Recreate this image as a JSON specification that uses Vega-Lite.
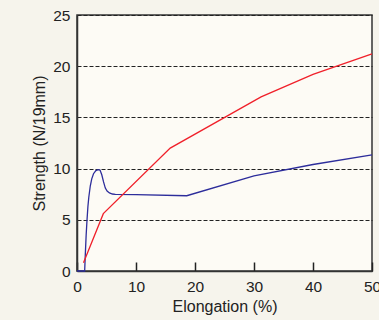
{
  "$schema": "https://vega.github.io/schema/vega-lite/v6.json",
  "width": 295,
  "height": 256,
  "autosize": {"type": "none"},
  "padding": {"left": 77, "top": 15, "right": 7, "bottom": 49},
  "background": "#f6f4ec",
  "view": {"fill": "#fdfbf5", "stroke": "#333333", "strokeWidth": 1.5},
  "config": {
    "font": "Liberation Sans",
    "axis": {
      "labelFont": "Liberation Sans",
      "titleFont": "Liberation Sans",
      "labelFontSize": 15.5,
      "titleFontSize": 16,
      "titleFontWeight": "normal",
      "labelColor": "#222222",
      "titleColor": "#222222",
      "domainColor": "#333333",
      "domainWidth": 1.5,
      "labelFlush": false,
      "labelOverlap": false,
      "labelBound": false
    }
  },
  "data": {
    "values": [
      {"series": "blue", "x": 0, "y": 0},
      {"series": "blue", "x": 1.3, "y": 0},
      {"series": "blue", "x": 1.4, "y": 1.5},
      {"series": "blue", "x": 1.55, "y": 3.5},
      {"series": "blue", "x": 1.7, "y": 5},
      {"series": "blue", "x": 1.85, "y": 6.3},
      {"series": "blue", "x": 2.0, "y": 7.2},
      {"series": "blue", "x": 2.25, "y": 8.3},
      {"series": "blue", "x": 2.5, "y": 9.0},
      {"series": "blue", "x": 2.8, "y": 9.5},
      {"series": "blue", "x": 3.2, "y": 9.8},
      {"series": "blue", "x": 3.6, "y": 9.9},
      {"series": "blue", "x": 3.9, "y": 9.85},
      {"series": "blue", "x": 4.2, "y": 9.4},
      {"series": "blue", "x": 4.5, "y": 8.7},
      {"series": "blue", "x": 4.8, "y": 8.1},
      {"series": "blue", "x": 5.1, "y": 7.8},
      {"series": "blue", "x": 5.5, "y": 7.62},
      {"series": "blue", "x": 6.0, "y": 7.52},
      {"series": "blue", "x": 6.5, "y": 7.49},
      {"series": "blue", "x": 10, "y": 7.45},
      {"series": "blue", "x": 18.6, "y": 7.35},
      {"series": "blue", "x": 30, "y": 9.3},
      {"series": "blue", "x": 40, "y": 10.4},
      {"series": "blue", "x": 50, "y": 11.35},
      {"series": "red", "x": 1.1, "y": 0.8},
      {"series": "red", "x": 4.46, "y": 5.6},
      {"series": "red", "x": 15.8, "y": 12},
      {"series": "red", "x": 31.2, "y": 17},
      {"series": "red", "x": 40, "y": 19.2},
      {"series": "red", "x": 50, "y": 21.2}
    ]
  },
  "encoding": {
    "x": {
      "field": "x", "type": "quantitative",
      "scale": {"domain": [0, 50], "nice": false},
      "axis": {
        "title": "Elongation (%)",
        "values": [0, 10, 20, 30, 40, 50],
        "grid": false,
        "ticks": true,
        "tickSize": -9,
        "tickColor": "#222222",
        "tickWidth": 1.5,
        "labelPadding": 17,
        "titlePadding": 4
      }
    },
    "y": {
      "field": "y", "type": "quantitative",
      "scale": {"domain": [0, 25], "nice": false},
      "axis": {
        "title": "Strength (N/19mm)",
        "values": [0, 5, 10, 15, 20, 25],
        "ticks": false,
        "grid": true,
        "gridColor": "#222222",
        "gridDash": [4, 2],
        "gridWidth": 1,
        "gridOpacity": 1,
        "labelPadding": 7,
        "titlePadding": 5
      }
    }
  },
  "layer": [
    {
      "transform": [{"filter": "datum.series === 'blue'"}],
      "mark": {"type": "line", "color": "#2d2d9b", "strokeWidth": 1.3}
    },
    {
      "transform": [{"filter": "datum.series === 'red'"}],
      "mark": {"type": "line", "color": "#f0202a", "strokeWidth": 1.3}
    }
  ]
}
